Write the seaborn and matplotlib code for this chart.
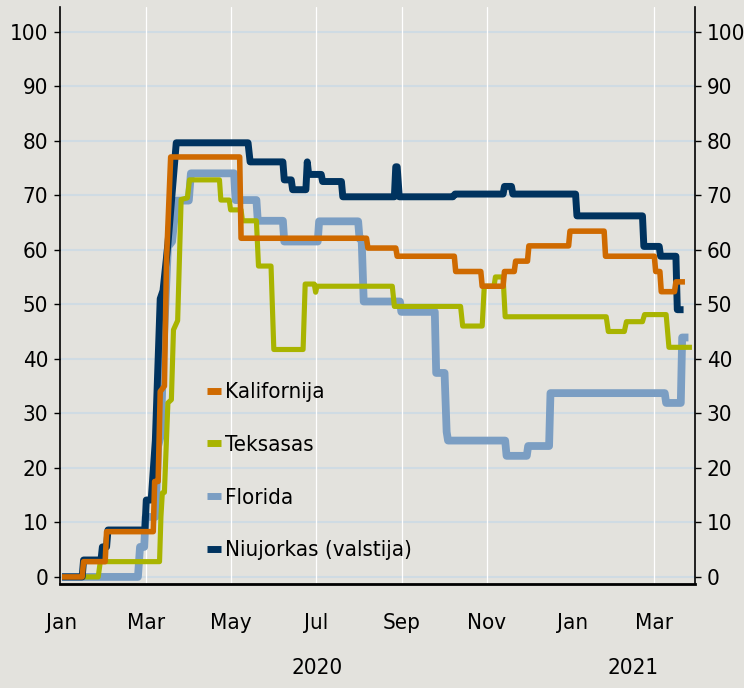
#!/usr/bin/env python3

"""
    Step lines of a state index (Kalifornija, Teksasas, Florida, Niujorkas),
    Jan 2020 - Mar 2021, with tick labels mirrored on both sides.
"""

import matplotlib
matplotlib.use("Agg")

import pandas as pd
import matplotlib.pyplot as plt
import matplotlib.transforms as mtransforms
from matplotlib import font_manager
from matplotlib.lines import Line2D
import seaborn as sns

START = pd.Timestamp("2020-01-01")

# day offsets from 1 Jan 2020 and index values
ca_day = [0, 14.5, 15.5, 31, 32, 65.5, 66.5, 69, 70.5, 73.5, 75, 78, 127.5, 128.5, 218.5, 219.5, 239.5, 240.5,
          281.5, 282.5, 300.5, 301.5, 316.5, 317.5, 324.5, 325.5, 334, 335, 363.5, 364.5, 389, 390, 425, 426,
          429, 430, 439.5, 440.5, 447]
ca_val = [0, 0, 2.8, 2.8, 8.3, 8.3, 17.5, 17.5, 34, 35, 58, 77, 77, 62.1, 62.1, 60.3, 60.3, 58.8, 58.8, 56.0,
          56.0, 53.3, 53.3, 56.0, 56.0, 57.9, 57.9, 60.7, 60.7, 63.4, 63.4, 58.8, 58.8, 56.0, 56.0, 52.3, 52.3,
          54.1, 54.1]

tx_day = [0, 26, 27.5, 70, 71, 72, 73.5, 76, 78.5, 80, 83, 85.5, 90, 91.5, 113, 114, 120, 121, 128.5, 129.5,
          139.5, 141, 150, 152, 173, 174.5, 181, 182, 183, 237, 238.5, 286, 287.5, 301.5, 303, 310, 311, 316.5,
          318, 390.5, 392, 403.5, 405, 416.5, 418, 433.5, 435.5, 452]
tx_val = [0, 0, 2.8, 2.8, 11, 15.4, 15.5, 31.9, 32.5, 45.3, 47, 69.2, 69.5, 72.8, 72.8, 69.1, 69.1, 67.3, 67.3,
          65.3, 65.3, 57.0, 57.0, 41.7, 41.7, 53.7, 53.7, 52.2, 53.3, 53.3, 49.6, 49.6, 46.0, 46.0, 53.3, 53.3,
          55.0, 55.0, 47.7, 47.7, 45.0, 45.0, 46.8, 46.8, 48.1, 48.1, 42.1, 42.1]

fl_day = [0, 54.5, 56, 59, 60, 67, 69, 71, 72.5, 76, 79, 82, 91, 92.5, 123.5, 124.5, 139.5, 140.5, 158.5, 159.5,
          183.5, 184.5, 212.5, 213.5, 215, 216.5, 242.5, 243.5, 267.5, 268.5, 274.5, 276, 277, 318, 319, 333.5,
          334.5, 349.5, 350.5, 432.5, 433.5, 444, 445, 449.5]
fl_val = [0, 0, 5.5, 5.5, 11, 11, 24, 26, 40, 60.5, 61.5, 69, 69, 74, 74, 69.1, 69.1, 65.3, 65.3, 61.5, 61.5,
          65.2, 65.2, 62, 62, 50.5, 50.5, 48.6, 48.6, 37.4, 37.4, 26.6, 25.0, 25.0, 22.2, 22.2, 24.0, 24.0,
          33.7, 33.7, 31.9, 31.9, 43.9, 43.9]

ny_day = [0, 14.5, 15.5, 28, 29, 32, 33, 59.5, 60.5, 64, 67, 70.5, 72.5, 76, 82, 133.5, 135, 158.5, 159.5,
          164.5, 165.5, 175, 176, 177, 186, 187, 200.5, 201.5, 238.5, 239.5, 240.5, 242, 280.5, 282, 316.5,
          317.5, 322.5, 323.5, 368.5, 369.5, 416.5, 417.5, 428.5, 429.5, 440.5, 441.5, 446]
ny_val = [0, 0, 3.1, 3.1, 5.5, 5.5, 8.6, 8.6, 14.1, 14.1, 25, 51, 52.5, 61, 79.6, 79.6, 76.1, 76.1, 72.8, 72.8,
          71.0, 71.0, 76.1, 73.8, 73.8, 72.5, 72.5, 69.7, 69.7, 75.2, 75.2, 69.7, 69.7, 70.2, 70.2, 71.6, 71.6,
          70.2, 70.2, 66.2, 66.2, 60.6, 60.6, 58.8, 58.8, 49.0, 49.0]

labels = ["Kalifornija", "Teksasas", "Florida", "Niujorkas (valstija)"]
month_ticks = ["2020-01-01", "2020-03-01", "2020-05-01", "2020-07-01", "2020-09-01", "2020-11-01",
               "2021-01-01", "2021-03-01"]
month_labels = ["Jan", "Mar", "May", "Jul", "Sep", "Nov", "Jan", "Mar"]
years = ["2020", "2021"]
y_ticks = [0, 10, 20, 30, 40, 50, 60, 70, 80, 90, 100]

BG = "#e3e2dd"
COLORS = {"Kalifornija": "#cf6a00", "Teksasas": "#a9b400",
          "Florida": "#7b9ec3", "Niujorkas (valstija)": "#00335f"}
WIDTHS = {"Kalifornija": 4.0, "Teksasas": 3.7, "Florida": 5.6, "Niujorkas (valstija)": 5.0}


def pick_font():
    """
    Narrow font if one is installed, the reference text is strongly condensed
    :return: family name, font size, stretch
    """
    fonts = font_manager.fontManager.ttflist
    names = {f.name for f in fonts}
    if "Liberation Sans Narrow" in names:
        return "Liberation Sans Narrow", 19, "normal"
    if any(f.name == "DejaVu Sans" and f.stretch == "condensed" for f in fonts):
        return "DejaVu Sans", 16, "condensed"
    return "DejaVu Sans", 14.5, "normal"


def to_dates(days):
    return START + pd.to_timedelta(days, unit="D")


def main():
    sns.set_theme(style="white")
    family, fs, stretch = pick_font()
    plt.rcParams["font.family"] = [family, "DejaVu Sans"]
    plt.rcParams["font.stretch"] = stretch
    plt.rcParams["text.color"] = "black"
    plt.rcParams["xtick.color"] = "black"
    plt.rcParams["ytick.color"] = "black"

    fig = plt.figure(figsize=(7.44, 6.88), dpi=100, facecolor=BG)
    ax = fig.add_axes([60 / 744, 1 - 584 / 688, 635 / 744, 577 / 688], facecolor=BG)

    # draw order as in the reference: orange on top
    series = {
        "Florida": (fl_day, fl_val),
        "Teksasas": (tx_day, tx_val),
        "Niujorkas (valstija)": (ny_day, ny_val),
        "Kalifornija": (ca_day, ca_val),
    }
    for z, (name, (days, vals)) in enumerate(series.items()):
        df = pd.DataFrame({"date": to_dates(days), "value": vals})
        sns.lineplot(data=df, x="date", y="value", ax=ax, color=COLORS[name], linewidth=WIDTHS[name],
                     estimator=None, sort=False, solid_joinstyle="round", solid_capstyle="butt",
                     zorder=3 + z)

    ax.set_xlim(START - pd.Timedelta(hours=34), START + pd.Timedelta(days=454.2))
    ax.set_ylim(-1.3, 104.5)

    # grid: light blue horizontals, white verticals (not at year change)
    ax.set_yticks(y_ticks)
    ax.grid(axis="y", color="#cfdbe3", linewidth=1.5, zorder=1)
    ax.set_axisbelow(True)
    for tick, lab in zip(month_ticks, month_labels):
        if lab != "Jan":
            ax.axvline(pd.Timestamp(tick), color="white", linewidth=0.9, zorder=1)

    ax.set_xticks(pd.to_datetime(month_ticks), labels=month_labels)
    jan_ticks = [pd.Timestamp(t) for t, lab in zip(month_ticks, month_labels) if lab == "Jan"]
    ax.set_xticks(jan_ticks, minor=True)
    ax.tick_params(axis="x", which="major", length=3, width=1, color="black", labelcolor="black",
                   pad=18, labelsize=fs)
    ax.tick_params(axis="x", which="minor", length=8, width=1.2, color="#333333")
    ax.tick_params(axis="y", which="major", length=4.5, width=1, color="black", labelcolor="black",
                   pad=4, labelsize=fs, left=True, right=True, labelleft=True, labelright=True)
    ax.set_xlabel("")
    ax.set_ylabel("")

    # year labels centred on the visible span of each year
    x0, x1 = ax.get_xlim()
    trans = mtransforms.blended_transform_factory(ax.transData, ax.transAxes)
    for yr in years:
        a = max(matplotlib.dates.date2num(pd.Timestamp(f"{yr}-01-01")), x0)
        b = min(matplotlib.dates.date2num(pd.Timestamp(f"{int(yr) + 1}-01-01")), x1)
        ax.text((a + b) / 2, -0.1456, yr, transform=trans, ha="center", va="center", fontsize=fs,
                color="black")

    for side in ["left", "right"]:
        ax.spines[side].set_color("black")
        ax.spines[side].set_linewidth(1.2)
    ax.spines["bottom"].set_color("black")
    ax.spines["bottom"].set_linewidth(2)
    ax.spines["top"].set_visible(False)

    handles = [Line2D([], [], color=COLORS[lab], linewidth=5, solid_capstyle="butt") for lab in labels]
    ax.legend(handles, labels, loc="upper left", bbox_to_anchor=(0.2315, 0.3496), frameon=False,
              handlelength=0.65, handletextpad=0.15, labelspacing=1.47, borderpad=0, borderaxespad=0,
              fontsize=fs, labelcolor="black")

    fig.savefig("out.png", dpi=100, facecolor=BG)


if __name__ == "__main__":
    main()
